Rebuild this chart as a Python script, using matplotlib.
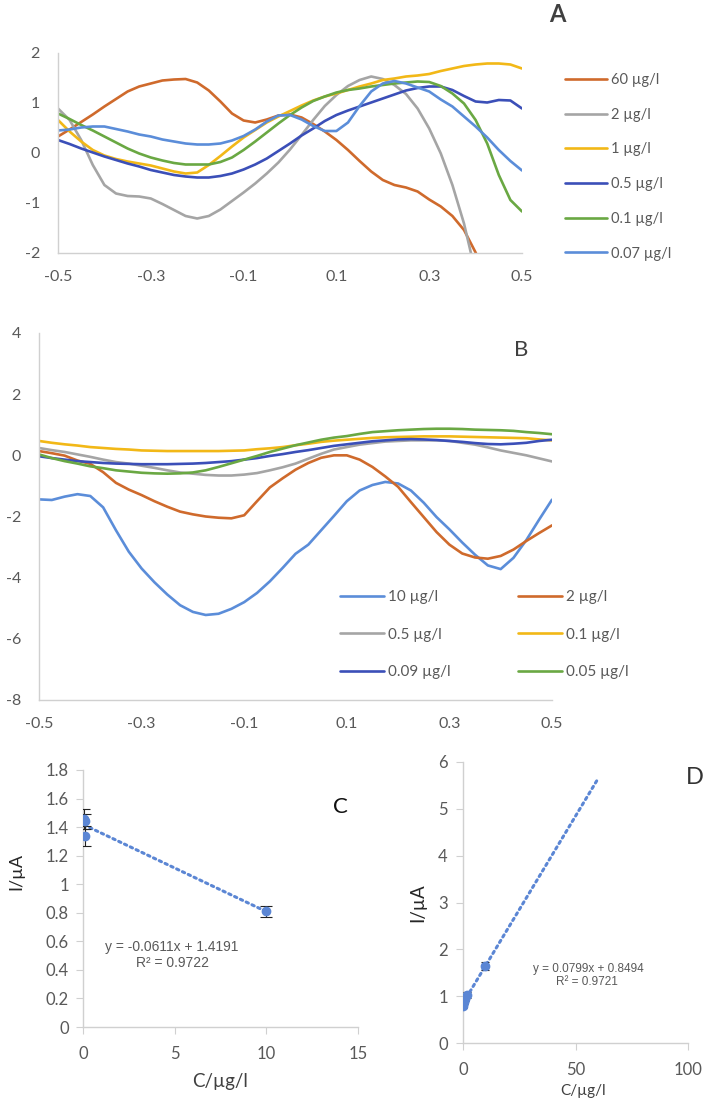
import matplotlib
matplotlib.use("Agg")
import matplotlib.pyplot as plt
from matplotlib.ticker import FuncFormatter

# ---------------- data ----------------
potential = [-0.5, -0.475, -0.45, -0.425, -0.4, -0.375, -0.35, -0.325, -0.3, -0.275,
             -0.25, -0.225, -0.2, -0.175, -0.15, -0.125, -0.1, -0.075, -0.05, -0.025,
             0.0, 0.025, 0.05, 0.075, 0.1, 0.125, 0.15, 0.175, 0.2, 0.225,
             0.25, 0.275, 0.3, 0.325, 0.35, 0.375, 0.4, 0.425, 0.45, 0.475, 0.5]

# Panel A
a_labels = ["60 µg/l", "2 µg/l", "1 µg/l", "0.5 µg/l", "0.1 µg/l", "0.07 µg/l"]
a_60 = [0.33, 0.47, 0.62, 0.77, 0.93, 1.08, 1.23, 1.33, 1.39, 1.45,
        1.47, 1.48, 1.41, 1.25, 1.03, 0.79, 0.65, 0.61, 0.67, 0.75,
        0.77, 0.71, 0.58, 0.43, 0.26, 0.06, -0.16, -0.37, -0.54, -0.64,
        -0.69, -0.77, -0.93, -1.07, -1.26, -1.54, -1.99, -2.5, -3.0, -3.5, -4.0]
a_2 = [0.89, 0.66, 0.26, -0.24, -0.64, -0.81, -0.86, -0.87, -0.91, -1.02,
       -1.14, -1.26, -1.31, -1.26, -1.13, -0.96, -0.79, -0.61, -0.41, -0.19,
       0.07, 0.36, 0.66, 0.94, 1.16, 1.34, 1.46, 1.53, 1.48, 1.36,
       1.18, 0.89, 0.49, -0.01, -0.64, -1.41, -2.4, -3.2, -4.0, -4.8, -5.5]
a_1 = [0.66, 0.43, 0.23, 0.06, -0.05, -0.12, -0.17, -0.21, -0.25, -0.31,
       -0.37, -0.41, -0.39, -0.24, -0.06, 0.13, 0.31, 0.46, 0.61, 0.73,
       0.84, 0.95, 1.05, 1.13, 1.19, 1.26, 1.33, 1.39, 1.46, 1.49,
       1.53, 1.55, 1.58, 1.64, 1.69, 1.74, 1.77, 1.79, 1.79, 1.77, 1.69]
a_05 = [0.26, 0.18, 0.09, 0.01, -0.07, -0.14, -0.21, -0.27, -0.34, -0.39,
        -0.44, -0.47, -0.49, -0.49, -0.46, -0.41, -0.33, -0.23, -0.11, 0.04,
        0.19, 0.35, 0.49, 0.64, 0.76, 0.85, 0.93, 1.01, 1.09, 1.17,
        1.25, 1.30, 1.33, 1.33, 1.26, 1.14, 1.03, 1.01, 1.06, 1.05, 0.89]
a_01 = [0.79, 0.68, 0.56, 0.45, 0.33, 0.21, 0.09, -0.01, -0.09, -0.15,
        -0.20, -0.23, -0.23, -0.23, -0.18, -0.09, 0.06, 0.23, 0.41, 0.59,
        0.76, 0.91, 1.04, 1.13, 1.21, 1.26, 1.29, 1.33, 1.36, 1.39,
        1.41, 1.43, 1.42, 1.34, 1.19, 0.99, 0.66, 0.19, -0.44, -0.94, -1.17]
a_007 = [0.45, 0.47, 0.51, 0.53, 0.53, 0.48, 0.43, 0.37, 0.33, 0.27,
         0.23, 0.19, 0.17, 0.17, 0.19, 0.25, 0.34, 0.47, 0.63, 0.75,
         0.76, 0.67, 0.54, 0.44, 0.44, 0.61, 0.94, 1.23, 1.39, 1.44,
         1.39, 1.31, 1.23, 1.07, 0.93, 0.73, 0.53, 0.31, 0.06, -0.16, -0.35]

# Panel B
b_labels = ["10 µg/l", "2 µg/l", "0.5 µg/l", "0.1 µg/l", "0.09 µg/l", "0.05 µg/l"]
b_10 = [-1.44, -1.46, -1.35, -1.27, -1.33, -1.70, -2.45, -3.15, -3.70, -4.15,
        -4.55, -4.90, -5.12, -5.22, -5.18, -5.02, -4.80, -4.50, -4.12, -3.68,
        -3.22, -2.92, -2.45, -1.98, -1.50, -1.15, -0.97, -0.87, -0.92, -1.15,
        -1.55, -2.02, -2.42, -2.85, -3.25, -3.60, -3.72, -3.35, -2.77, -2.10, -1.45]
b_2 = [0.14, 0.07, -0.01, -0.17, -0.28, -0.55, -0.90, -1.12, -1.30, -1.50,
       -1.68, -1.84, -1.93, -2.00, -2.04, -2.06, -1.96, -1.50, -1.05, -0.75,
       -0.47, -0.25, -0.08, 0.00, 0.00, -0.14, -0.38, -0.69, -1.03, -1.53,
       -2.02, -2.51, -2.92, -3.21, -3.34, -3.38, -3.29, -3.08, -2.80, -2.54, -2.29]
b_05 = [0.24, 0.17, 0.11, 0.03, -0.05, -0.14, -0.22, -0.27, -0.34, -0.41,
        -0.49, -0.56, -0.60, -0.64, -0.66, -0.66, -0.63, -0.58, -0.49, -0.39,
        -0.27, -0.11, 0.05, 0.19, 0.27, 0.35, 0.40, 0.45, 0.47, 0.49,
        0.49, 0.49, 0.47, 0.41, 0.35, 0.26, 0.16, 0.08, 0.00, -0.10, -0.20]
b_01 = [0.47, 0.41, 0.36, 0.32, 0.27, 0.24, 0.21, 0.19, 0.16, 0.15,
        0.14, 0.14, 0.14, 0.14, 0.14, 0.15, 0.16, 0.20, 0.23, 0.27,
        0.33, 0.38, 0.44, 0.48, 0.51, 0.54, 0.57, 0.59, 0.60, 0.61,
        0.62, 0.62, 0.62, 0.61, 0.60, 0.59, 0.58, 0.57, 0.56, 0.52, 0.49]
b_009 = [-0.03, -0.09, -0.14, -0.19, -0.22, -0.25, -0.27, -0.28, -0.29, -0.29,
         -0.29, -0.28, -0.27, -0.25, -0.22, -0.19, -0.14, -0.09, -0.02, 0.04,
         0.11, 0.17, 0.24, 0.31, 0.36, 0.41, 0.46, 0.49, 0.52, 0.53,
         0.52, 0.50, 0.47, 0.44, 0.40, 0.37, 0.36, 0.38, 0.41, 0.47, 0.51]
b_005 = [0.03, -0.09, -0.19, -0.27, -0.36, -0.42, -0.49, -0.53, -0.57, -0.59,
         -0.60, -0.59, -0.56, -0.49, -0.38, -0.26, -0.14, -0.02, 0.11, 0.22,
         0.33, 0.42, 0.51, 0.58, 0.63, 0.70, 0.76, 0.79, 0.82, 0.84,
         0.86, 0.87, 0.87, 0.86, 0.84, 0.83, 0.82, 0.80, 0.76, 0.73, 0.69]

# Panel C
c_conc = [0.05, 0.09, 0.1, 10]
c_current = [1.46, 1.44, 1.34, 0.81]
c_err = [0.07, 0.05, 0.07, 0.04]
c_slope, c_intercept, c_r2 = -0.0611, 1.4191, 0.9722

# Panel D
d_conc = [0.07, 0.1, 0.5, 1, 2, 10]
d_current = [0.78, 0.83, 0.88, 0.95, 1.02, 1.65]
d_err = [0.04, 0.04, 0.05, 0.05, 0.06, 0.09]
d_slope, d_intercept, d_r2 = 0.0799, 0.8494, 0.9721
d_trend_end = 60

a_ticks_x = [-0.5, -0.3, -0.1, 0.1, 0.3, 0.5]
a_ticks_y = [-2, -1, 0, 1, 2]
b_ticks_y = [-8, -6, -4, -2, 0, 2, 4]

# ---------------- style ----------------
ORANGE = "#CF6A2C"
GRAY = "#A5A5A5"
YELLOW = "#F2B817"
DBLUE = "#3B4FB8"
GREEN = "#6AA843"
LBLUE = "#5B8DD9"
TICKC = "#595959"
SPINE = "#D0D0D0"
FONT = "Lato"

plt.rcParams["font.family"] = [FONT, "DejaVu Sans"]

fig = plt.figure(figsize=(7.05, 11.05), dpi=100)
W, H = 705.0, 1105.0


def px_axes(l, t, r, b):
    return fig.add_axes([l / W, 1 - b / H, (r - l) / W, (b - t) / H])


def style(ax, ticklen=0, size=11.5, padx=12, pady=12):
    for s in ("top", "right"):
        ax.spines[s].set_visible(False)
    for s in ("left", "bottom"):
        ax.spines[s].set_color(SPINE)
        ax.spines[s].set_linewidth(1.0)
    ax.tick_params(axis="x", length=ticklen, colors=SPINE, labelcolor=TICKC,
                   labelsize=size, pad=padx)
    ax.tick_params(axis="y", length=ticklen, colors=SPINE, labelcolor=TICKC,
                   labelsize=size, pad=pady)


lw = 1.9
fmt = FuncFormatter(lambda v, p: ("%g" % v))

# ---- Panel A ----
axA = px_axes(58, 53, 522, 253)
a_series = [a_60, a_2, a_1, a_05, a_01, a_007]
a_colors = [ORANGE, GRAY, YELLOW, DBLUE, GREEN, LBLUE]
for ys, c, lab in zip(a_series, a_colors, a_labels):
    axA.plot(potential, ys, color=c, lw=lw, label=lab, solid_capstyle="round")
axA.set_xlim(-0.5, 0.5)
axA.set_ylim(-2, 2)
axA.set_xticks(a_ticks_x)
axA.set_yticks(a_ticks_y)
axA.xaxis.set_major_formatter(fmt)
axA.yaxis.set_major_formatter(fmt)
style(axA, size=11.5, padx=12, pady=13)
axA.legend(loc="upper left", bbox_to_anchor=(565 / W, 1 - 73 / H),
           bbox_transform=fig.transFigure, frameon=False, fontsize=10.5,
           handlelength=2.9, handletextpad=0.25, labelspacing=1.42,
           borderpad=0, borderaxespad=0, labelcolor=TICKC)
fig.text(557 / W, 1 - 15 / H, "A", fontsize=17, fontweight="bold",
         color="#404040", ha="center", va="center")

# ---- Panel B ----
axB = px_axes(39, 333, 552, 700)
b_series = [b_10, b_2, b_05, b_01, b_009, b_005]
b_colors = [LBLUE, ORANGE, GRAY, YELLOW, DBLUE, GREEN]
handles = []
for ys, c, lab in zip(b_series, b_colors, b_labels):
    h, = axB.plot(potential, ys, color=c, lw=lw, label=lab, solid_capstyle="round")
    handles.append(h)
axB.set_xlim(-0.5, 0.5)
axB.set_ylim(-8, 4)
axB.set_xticks(a_ticks_x)
axB.set_yticks(b_ticks_y)
axB.xaxis.set_major_formatter(fmt)
axB.yaxis.set_major_formatter(fmt)
style(axB, size=11.5, padx=12, pady=13)
order = [0, 2, 4, 1, 3, 5]
axB.legend([handles[i] for i in order], [b_labels[i] for i in order],
           ncol=2, loc="upper left", bbox_to_anchor=(340 / W, 1 - 590 / H),
           bbox_transform=fig.transFigure, frameon=False, fontsize=11,
           handlelength=2.9, handletextpad=0.25, labelspacing=1.55,
           columnspacing=4.4, borderpad=0, borderaxespad=0, labelcolor=TICKC)
fig.text(521 / W, 1 - 350 / H, "B", fontsize=16, color="#404040",
         ha="center", va="center")

# ---- Panel C ----
axC = px_axes(83, 770, 358, 1027)
DOT = "#5B86D4"
axC.errorbar(c_conc, c_current, yerr=c_err, fmt="o", color=DOT, ms=6,
             ecolor="#222222", elinewidth=0.8, capsize=4, capthick=0.8, zorder=3)
cx = [min(c_conc), max(c_conc)]
axC.plot(cx, [c_slope * v + c_intercept for v in cx], color=DOT, lw=2.2,
         linestyle=(0, (0.8, 1.3)), dash_capstyle="round", zorder=2)
axC.set_xlim(0, 15)
axC.set_ylim(0, 1.8)
axC.set_xticks([0, 5, 10, 15])
axC.set_yticks([0, 0.2, 0.4, 0.6, 0.8, 1.0, 1.2, 1.4, 1.6, 1.8])
axC.xaxis.set_major_formatter(fmt)
axC.yaxis.set_major_formatter(fmt)
style(axC, ticklen=5, size=12, padx=9, pady=5)
axC.set_ylabel("I/µA", fontsize=13, color="#262626")
axC.set_xlabel("C/µg/l", fontsize=13.5, color="#404040")
axC.yaxis.set_label_coords((24 - 83) / 275, (1027 - 871) / 257)
axC.xaxis.set_label_coords((220 - 83) / 275, (1027 - 1073) / 257)
fig.text(172 / W, 1 - 947 / H, "y = %.4fx + %.4f" % (c_slope, c_intercept),
         fontsize=10, family="Liberation Sans", color=TICKC,
         ha="center", va="center")
fig.text(173 / W, 1 - 963 / H, "R² = %.4f" % c_r2, fontsize=10,
         family="Liberation Sans", color=TICKC, ha="center", va="center")
fig.text(340 / W, 1 - 807 / H, "C", fontsize=16, color="#111111",
         ha="center", va="center")

# ---- Panel D ----
axD = px_axes(463, 762, 688, 1043)
axD.errorbar(d_conc, d_current, yerr=d_err, fmt="o", color=DOT, ms=6,
             ecolor="#222222", elinewidth=0.8, capsize=3, capthick=0.8, zorder=3)
dx = [min(d_conc), d_trend_end]
axD.plot(dx, [d_slope * v + d_intercept for v in dx], color=DOT, lw=2.2,
         linestyle=(0, (0.8, 1.3)), dash_capstyle="round", zorder=2)
axD.set_xlim(0, 100)
axD.set_ylim(0, 6)
axD.set_xticks([0, 50, 100])
axD.set_yticks([0, 1, 2, 3, 4, 5, 6])
style(axD, ticklen=5, size=12, padx=9, pady=6)
axD.set_ylabel("I/µA", fontsize=13.5, color="#262626")
axD.set_xlabel("C/µg/l", fontsize=11, color="#404040")
axD.yaxis.set_label_coords((426 - 463) / 225, (1043 - 903) / 281)
axD.xaxis.set_label_coords((583 - 463) / 225, (1043 - 1084) / 281)
fig.text(588 / W, 1 - 969 / H, "y = %.4fx + %.4f" % (d_slope, d_intercept),
         fontsize=8.5, family="Liberation Sans", color=TICKC,
         ha="center", va="center")
fig.text(587 / W, 1 - 982 / H, "R² = %.4f" % d_r2, fontsize=8.5,
         family="Liberation Sans", color=TICKC, ha="center", va="center")
fig.text(695 / W, 1 - 777 / H, "D", fontsize=17, color="#333333",
         ha="center", va="center")

fig.savefig("out.png", dpi=100)
